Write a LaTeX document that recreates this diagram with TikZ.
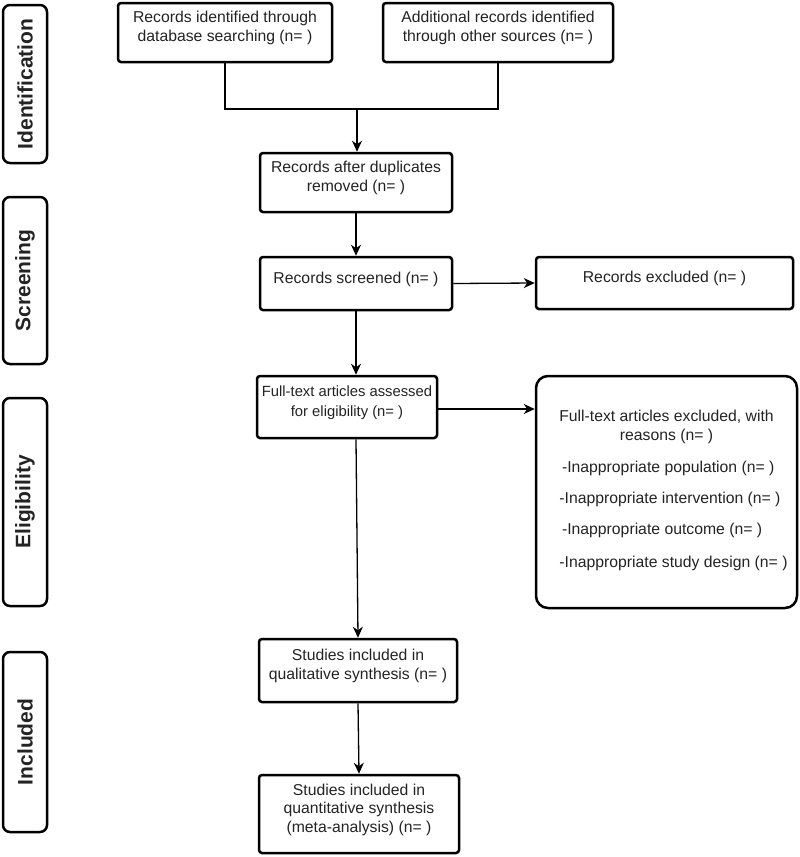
\documentclass[tikz,border=0pt]{standalone}
\usepackage{fontspec}
\setmainfont{Liberation Sans}
\usetikzlibrary{arrows.meta}
\definecolor{txt}{RGB}{35,35,35}
\begin{document}
\begin{tikzpicture}[x=1pt,y=-1pt,
  box/.style={draw=black, line width=2.5pt, rounded corners=3pt, align=center,
    font=\fontsize{15.75}{18.5}\selectfont, text=txt, inner sep=0pt, text depth=12pt},
  sidebox/.style={draw=black, line width=2.5pt, rounded corners=7pt, rotate=90,
    font=\fontsize{21}{25}\selectfont\bfseries, text=txt, inner sep=0pt, minimum height=44pt},
  conn/.style={line width=1.3pt, draw=black},
  arr/.style={conn, -{Stealth[length=11pt,width=10pt,inset=3.5pt]}}
]
\useasboundingbox (0,0) rectangle (800,857);

% phase labels
\node[sidebox, minimum width=158pt] (sid) at (25,84) {Identification};
\node[sidebox, minimum width=167pt] (sscr) at (25,280.5) {Screening};
\node[sidebox, minimum width=208pt] (sel) at (25,502) {Eligibility};
\node[sidebox, minimum width=180pt] (sinc) at (25,742) {Included};

% boxes
\node[box, minimum width=214pt, minimum height=59pt] (b1) at (225,32.5)
  {Records identified through\\database searching (n= )};
\node[box, minimum width=230pt, minimum height=59pt] (b2) at (498,32.5)
  {Additional records identified\\through other sources (n= )};
\node[box, minimum width=192pt, minimum height=59pt] (b3) at (356,182.5)
  {Records after duplicates\\removed (n= )};
\node[box, minimum width=192pt, minimum height=53pt] (scr) at (356,283.5)
  {Records screened (n= )};
\node[box, minimum width=257pt, minimum height=52pt] (exc) at (664.5,283)
  {Records excluded (n= )};
\node[box, minimum width=180pt, minimum height=62pt,
  font=\fontsize{14.8}{20}\selectfont] (ft) at (347,407)
  {Full-text articles assessed\\for eligibility (n= )};
\node[draw=black, line width=2.5pt, rounded corners=12pt, inner sep=0pt,
  minimum width=261pt, minimum height=232pt, text=txt, align=center,
  font=\fontsize{15.75}{19}\selectfont] (rsn) at (666.5,492)
  {Full-text articles excluded, with\\reasons (n= )\\[13pt]
   \hspace*{14pt}\begin{tabular}[t]{@{}l@{}}
   \,-Inappropriate population (n= )\\[12pt]
   -Inappropriate intervention (n= )\\[12pt]
   \,-Inappropriate outcome (n= )\\[14pt]
   -Inappropriate study design (n= )
  \end{tabular}};
\node[box, minimum width=198pt, minimum height=63pt] (qual) at (358,670.5)
  {Studies included in\\qualitative synthesis (n= )};
\node[box, minimum width=200pt, minimum height=78pt] (quan) at (359,814)
  {Studies included in\\quantitative synthesis\\(meta-analysis) (n= )};

% connectors
\coordinate (j) at (357,109);
\draw[conn] (b1.south) |- (j) -| (b2.south);
\draw[arr] (j) -- (j |- b3.north);
\draw[arr] (b3.south) -- (scr.north);
\draw[arr] (scr.east) -- (exc.west);
\draw[arr] (scr.south) -- (scr.south |- ft.north);
\draw[arr] (ft.east |- 0,409) -- (rsn.west |- 0,409);
\draw[arr] (scr.south |- ft.south) -- (qual.north);
\draw[arr] (qual.south) -- (quan.north);
\end{tikzpicture}
\end{document}
